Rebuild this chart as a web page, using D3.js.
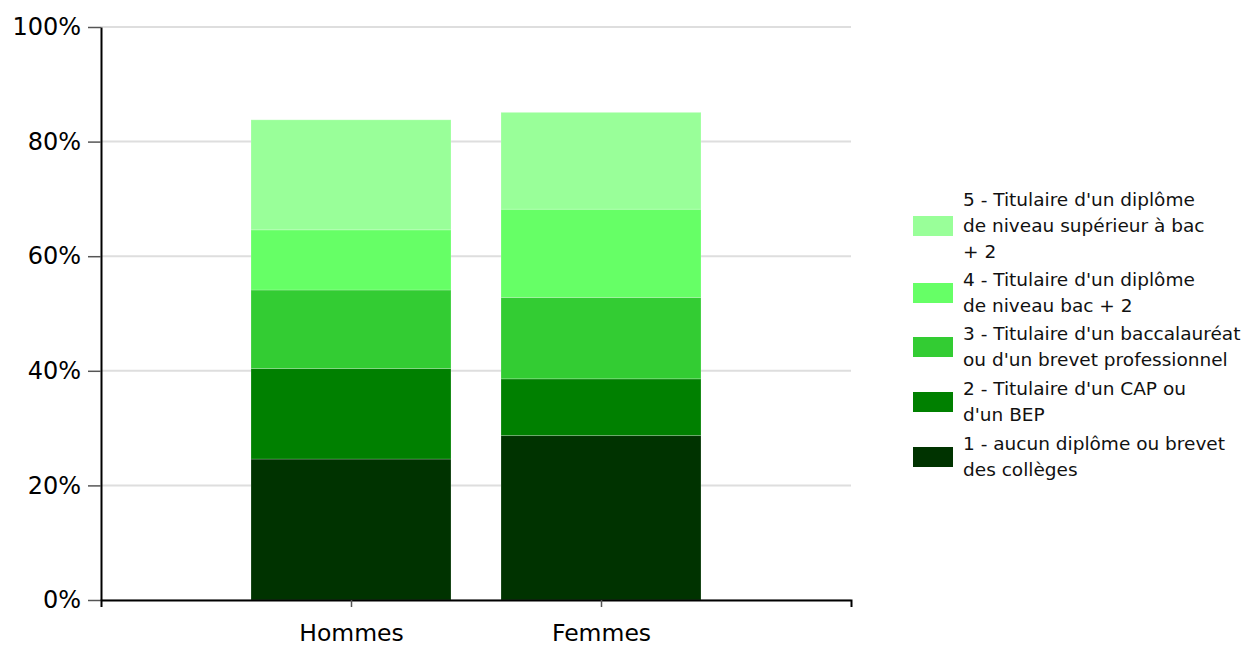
<!DOCTYPE html>
<html>
<head>
<meta charset="utf-8">
<script src="https://cdn.jsdelivr.net/npm/d3@7/dist/d3.min.js"></script>
<style>
  html, body { margin: 0; padding: 0; background: #fff; }
  svg { display: block; font-family: "DejaVu Sans", Verdana, sans-serif; }
</style>
</head>
<body>
<svg id="chart" width="1242" height="646"></svg>
<script>
// Groups on the x axis
const categories = ["Hommes", "Femmes"];

// Diploma levels, bottom of the stack first
const levels = [
  "1 - aucun diplôme ou brevet des collèges",
  "2 - Titulaire d'un CAP ou d'un BEP",
  "3 - Titulaire d'un baccalauréat ou d'un brevet professionnel",
  "4 - Titulaire d'un diplôme de niveau bac + 2",
  "5 - Titulaire d'un diplôme de niveau supérieur à bac + 2"
];

// Legend text, already broken into lines
const legendLines = [
  ["1 - aucun diplôme ou brevet", "des collèges"],
  ["2 - Titulaire d'un CAP ou", "d'un BEP"],
  ["3 - Titulaire d'un baccalauréat", "ou d'un brevet professionnel"],
  ["4 - Titulaire d'un diplôme", "de niveau bac + 2"],
  ["5 - Titulaire d'un diplôme", "de niveau supérieur à bac", "+ 2"]
];

// Share of each level (%), one array per level, in the order of categories
const level1 = [24.6, 28.7];
const level2 = [15.8, 9.9];
const level3 = [13.7, 14.2];
const level4 = [10.5, 15.4];
const level5 = [19.2, 16.9];

const colors = ["#003300", "#008000", "#33cc33", "#66ff66", "#99ff99"];

const yTicks = [0, 20, 40, 60, 80, 100];

const seriesValues = [level1, level2, level3, level4, level5];
const rows = categories.map((c, i) => {
  const r = { category: c };
  levels.forEach((l, k) => { r[l] = seriesValues[k][i]; });
  return r;
});
const stacked = d3.stack().keys(levels)(rows);

const svg = d3.select("#chart");
const plotLeft = 101, plotRight = 851, plotTop = 27, plotBottom = 600;

const x = d3.scalePoint().domain(categories).range([plotLeft, plotRight]).padding(1);
const barWidth = x.step() * 0.8;
const y = d3.scaleLinear().domain([0, 100]).range([plotBottom, plotTop]);
const color = d3.scaleOrdinal().domain(levels).range(colors);

// Horizontal gridlines
svg.append("g")
  .selectAll("line")
  .data(yTicks)
  .join("line")
  .attr("x1", plotLeft).attr("x2", plotRight)
  .attr("y1", d => y(d)).attr("y2", d => y(d))
  .attr("stroke", "#dedede")
  .attr("stroke-width", 2);

// Stacked bars
svg.append("g")
  .selectAll("g")
  .data(stacked)
  .join("g")
  .attr("fill", d => color(d.key))
  .selectAll("rect")
  .data(d => d)
  .join("rect")
  .attr("x", d => x(d.data.category) - barWidth / 2)
  .attr("width", barWidth)
  .attr("y", d => y(d[1]))
  .attr("height", d => y(d[0]) - y(d[1]))
  .attr("stroke", "#ffffff")
  .attr("stroke-opacity", 0.2)
  .attr("stroke-width", 1);

// Y axis
const yAxis = svg.append("g")
  .attr("transform", `translate(${plotLeft},0)`)
  .call(d3.axisLeft(y).tickValues(yTicks).tickFormat(d => d + "%").tickSize(13).tickSizeOuter(0).tickPadding(7));
yAxis.select(".domain").attr("stroke", "#000").attr("stroke-width", 2);
yAxis.selectAll(".tick line").attr("stroke", "#555").attr("stroke-width", 1.5);
yAxis.selectAll(".tick text")
  .attr("font-size", 24)
  .attr("fill", "#000")
  .attr("font-family", "DejaVu Sans, sans-serif");

// X axis
const xAxis = svg.append("g")
  .attr("transform", `translate(0,${plotBottom})`)
  .call(d3.axisBottom(x).tickSize(7).tickSizeOuter(7).tickPadding(17));
xAxis.select(".domain").attr("stroke", "#000").attr("stroke-width", 2);
xAxis.selectAll(".tick line").attr("stroke", "#555").attr("stroke-width", 1.5);
xAxis.selectAll(".tick text")
  .attr("font-size", 23.5)
  .attr("fill", "#000")
  .attr("font-family", "DejaVu Sans, sans-serif");

// Legend, highest level on top
const legendCenters = [457, 402, 347, 293, 226];
const lineHeight = 26;
const legend = svg.append("g").attr("class", "legend");
levels.forEach((l, k) => {
  const cy = legendCenters[k];
  legend.append("rect")
    .attr("x", 913).attr("y", cy - 10)
    .attr("width", 40).attr("height", 20)
    .attr("fill", color(l));
  const lines = legendLines[k];
  const t = legend.append("text")
    .attr("x", 963)
    .attr("font-size", 18.5)
    .attr("fill", "#111");
  lines.forEach((s, j) => {
    t.append("tspan")
      .attr("x", 963)
      .attr("y", cy + (j - (lines.length - 1) / 2) * lineHeight)
      .attr("dy", "0.35em")
      .text(s);
  });
});
</script>
</body>
</html>
